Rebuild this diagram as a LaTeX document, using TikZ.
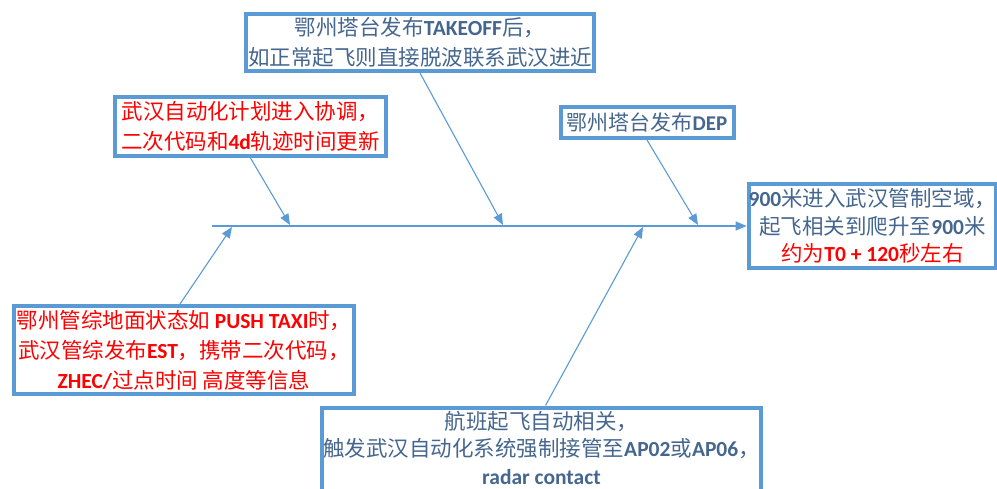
\documentclass[tikz,border=0pt]{standalone}
\usepackage{fontspec}
\setmainfont{Noto Sans CJK SC}
\newfontfamily\latf{Carlito}
\usetikzlibrary{arrows.meta}
\definecolor{boxblue}{HTML}{5B9BD5}
\definecolor{txtblue}{HTML}{45678F}
\definecolor{txtred}{HTML}{FF0000}
\newcommand\lb[1]{{\latf\bfseries #1}}
\tikzset{
  fishbox/.style={draw=boxblue, line width=4pt, fill=white, inner sep=0pt, align=center,
     font={\fontsize{21.5}{30}\selectfont\lineskiplimit=-100pt}},
  tightbox/.style={fishbox, font={\fontsize{21.5}{27.5}\selectfont\lineskiplimit=-100pt}},
  bluetxt/.style={text=txtblue},
  redtxt/.style={text=txtred},
  bone/.style={draw=boxblue, line width=1.1pt},
  bonearrow/.style={bone, -{Triangle[length=11pt,width=9pt]}}
}
\begin{document}
\begin{tikzpicture}[x=1pt,y=-1pt]
\useasboundingbox (0,0) rectangle (997,489);
\clip (0,0) rectangle (997,489);
\fill[white] (0,0) rectangle (997,489);
% boxes
\node[fishbox, bluetxt, minimum width=348pt, minimum height=57pt] (b1) at (420,42.5)
  {鄂州塔台发布\lb{TAKEOFF}后，\\如正常起飞则直接脱波联系武汉进近};
\node[fishbox, redtxt, minimum width=271pt, minimum height=59pt] (b2) at (250.5,126.5)
  {武汉自动化计划进入协调，\\二次代码和\lb{4d}轨迹时间更新};
\node[fishbox, bluetxt, minimum width=173pt, minimum height=31pt,
      font={\fontsize{21}{24}\selectfont}] (b3) at (647,122.5)
  {鄂州塔台发布\lb{DEP}};
\node[tightbox, bluetxt, minimum width=237pt, minimum height=84pt] (b4) at (872.5,226)
  {\lb{900}米进入武汉管制空域，\\起飞相关到爬升至\lb{900}米\\\textcolor{txtred}{约为\lb{T0 + 120}秒左右}};
\node[fishbox, redtxt, minimum width=340pt, minimum height=88pt] (b5) at (184,350)
  {鄂州管综地面状态如 \lb{PUSH TAXI}时，\\武汉管综发布\lb{EST}，携带二次代码，\\\lb{ZHEC/}过点时间 高度等信息};
\node[tightbox, bluetxt, minimum width=439pt, minimum height=108pt] (b6) at (541.5,461.5)
  {航班起飞自动相关，\\触发武汉自动化系统强制接管至\lb{AP02}或\lb{AP06}，\\\lb{radar contact}\\\mbox{}};
% spine
\coordinate (s0) at (212,226);
\draw[bonearrow] (s0) -- (b4.west);
% bone tips on spine
\coordinate (t1) at (290,225);
\coordinate (t2) at (503,225);
\coordinate (t3) at (698,225);
\coordinate (t5) at (232,227);
\coordinate (t6) at (643,227);
\draw[bonearrow] (b1.south) -- (t2);
\draw[bonearrow] (b2.south) -- (t1);
\draw[bonearrow] (b3.south) -- (t3);
\draw[bonearrow] ([xshift=-4pt]b5.north) -- (t5);
\draw[bonearrow] ([xshift=4pt]b6.north) -- (t6);
\end{tikzpicture}
\end{document}
